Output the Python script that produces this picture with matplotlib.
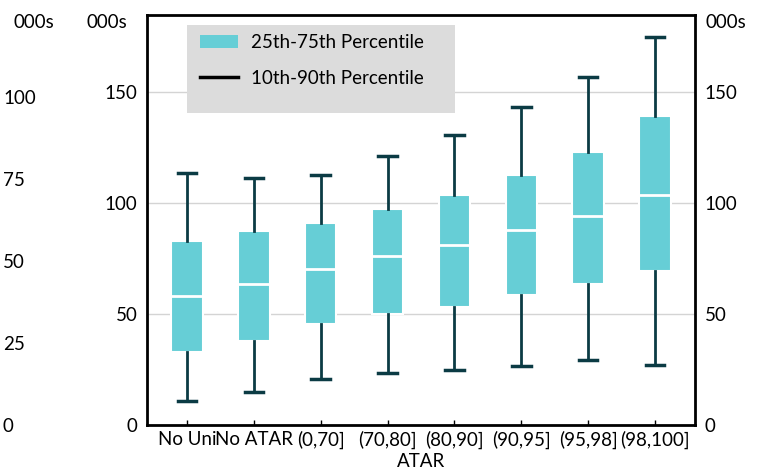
import matplotlib
matplotlib.use("Agg")
import matplotlib.pyplot as plt
from matplotlib.patches import Patch, Rectangle
from matplotlib.lines import Line2D

plt.rcParams['font.family'] = ['Lato', 'DejaVu Sans']

# income percentiles, 000s
categories = ['No Uni', 'No ATAR', '(0,70]', '(70,80]', '(80,90]', '(90,95]', '(95,98]', '(98,100]']
p10 = [10.9, 14.9, 20.6, 23.3, 24.6, 26.7, 29.1, 27.0]
p25 = [33.0, 37.7, 45.5, 49.9, 53.3, 58.7, 63.5, 69.2]
p50 = [58.0, 63.4, 70.1, 76.0, 81.0, 87.7, 94.2, 103.5]
p75 = [82.8, 87.2, 91.1, 97.4, 103.5, 112.5, 122.8, 139.1]
p90 = [113.7, 111.4, 112.8, 121.2, 130.6, 143.4, 156.8, 174.7]

main_ticks = [0, 50, 100, 150]
outer_ticks = [0, 25, 50, 75, 100]

teal = '#66CED6'
dark = '#0B3B44'
fs = 13.5

fig = plt.figure(figsize=(7.6, 4.71), dpi=100)
pos = [147 / 760, 46 / 471, 548 / 760, 410 / 471]
ax = fig.add_axes(pos)

stats = []
for i, c in enumerate(categories):
    stats.append(dict(label=c, whislo=p10[i], q1=p25[i], med=p50[i], q3=p75[i], whishi=p90[i], fliers=[]))

ax.bxp(stats, positions=range(len(categories)), widths=0.47, patch_artist=True, showfliers=False,
       boxprops=dict(facecolor=teal, edgecolor='white', linewidth=1.5),
       medianprops=dict(color='white', linewidth=2),
       whiskerprops=dict(color=dark, linewidth=2),
       capprops=dict(color=dark, linewidth=2.5),
       capwidths=0.28, zorder=3)

ax.set_xlim(-0.6, 7.6)
ax.set_ylim(0, 184.7)
ax.set_yticks(main_ticks)
ax.set_yticklabels([str(t) for t in main_ticks])
for t in [50, 100, 150]:
    ax.axhline(t, color='#d4d4d4', linewidth=1, zorder=1)
ax.tick_params(axis='y', length=0, pad=7, labelsize=fs, colors='black')
ax.tick_params(axis='x', direction='in', length=3.5, width=1, pad=4, labelsize=fs)
ax.set_xlabel('ATAR', fontsize=fs, labelpad=3)
for s in ax.spines.values():
    s.set_linewidth(2)
    s.set_color('black')

# right axis
axr = ax.twinx()
axr.set_ylim(ax.get_ylim())
axr.set_yticks(main_ticks)
axr.set_yticklabels([str(t) for t in main_ticks])
axr.tick_params(axis='y', length=0, pad=7, labelsize=fs)
for s in axr.spines.values():
    s.set_visible(False)

# outer left axis
axo = fig.add_axes(pos, frameon=False)
axo.set_xticks([])
axo.set_ylim(0, 125)
axo.set_yticks(outer_ticks)
axo.set_yticklabels([str(t) for t in outer_ticks])
axo.tick_params(axis='y', length=0, pad=103.7, labelsize=fs)
for lab in axo.get_yticklabels():
    lab.set_horizontalalignment('left')
axo.patch.set_alpha(0)

fig.text(13 / 760, 1 - 22 / 471, '000s', fontsize=fs, va='center', ha='left')
fig.text(127 / 760, 1 - 22 / 471, '000s', fontsize=fs, va='center', ha='right')
fig.text(705 / 760, 1 - 22 / 471, '000s', fontsize=fs, va='center', ha='left')

# legend
ax.add_patch(Rectangle((40 / 548, 1 - 98 / 410), 268 / 548, 88 / 410, transform=ax.transAxes,
                       facecolor='#dcdcdc', edgecolor='none', zorder=4))
handles = [Patch(facecolor=teal, edgecolor='none'), Line2D([0], [0], color='black', linewidth=2.5)]
leg = ax.legend(handles, ['25th-75th Percentile', '10th-90th Percentile'], loc='upper left',
                bbox_to_anchor=(40 / 548, 1 - 6 / 410), frameon=False, fontsize=fs,
                handlelength=2.0, handletextpad=0.7, labelspacing=1.0, borderpad=0.2)
leg.set_zorder(5)

fig.savefig('out.png', dpi=100)
